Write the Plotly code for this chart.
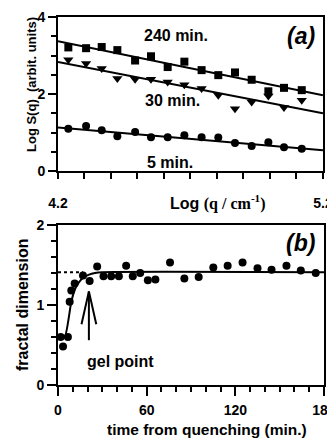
import plotly.graph_objects as go

# ---------------- Panel (a) data ----------------
logq = [4.239, 4.306, 4.365, 4.424, 4.491, 4.551, 4.614, 4.677, 4.742, 4.805, 4.868, 4.931, 4.994, 5.053, 5.120]
s_240 = [3.21, 3.19, 3.22, 3.14, 2.87, 2.98, 2.70, 2.84, 2.62, 2.49, 2.56, 2.37, 2.07, 2.16, 2.10]
s_30 = [2.89, 2.79, 2.66, 2.40, 2.38, 2.38, 2.31, 2.24, 2.14, 1.97, 1.62, 1.79, 1.95, 1.65, 1.84]
s_5 = [1.10, 1.17, 1.06, 0.90, 1.01, 0.88, 0.88, 0.93, 0.88, 0.87, 0.73, 0.65, 0.75, 0.62, 0.58]
fit_x = [4.2, 5.2]
fit_240 = [3.37, 1.97]
fit_30 = [2.83, 1.50]
fit_5 = [1.13, 0.54]
a_xtickvals = [4.2, 5.2]
a_yticks = [0, 2, 4]

# ---------------- Panel (b) data ----------------
t_min = [1.8, 3.4, 6.7, 7.9, 9.0, 11.3, 16.9, 21.4, 26.5, 30.8, 36.0, 41.2, 46.1, 50.6, 55.6,
         60.8, 65.9, 75.8, 85.5, 95.2, 105.1, 114.8, 124.9, 135.0, 144.5, 154.6, 164.3, 174.4]
dfrac = [0.60, 0.48, 0.60, 1.04, 1.18, 1.27, 1.37, 1.30, 1.48, 1.36, 1.36, 1.36, 1.49, 1.36, 1.40,
         1.31, 1.32, 1.53, 1.33, 1.35, 1.47, 1.49, 1.53, 1.46, 1.44, 1.49, 1.43, 1.40]
curve_t = [1.5, 4.5, 9.0, 11.5, 14.0, 17.0, 21.0, 25.0, 30.0, 180.0]
curve_d = [0.60, 0.60, 1.04, 1.20, 1.28, 1.34, 1.38, 1.40, 1.41, 1.41]
plateau_t = [0.0, 17.0]
plateau_d = [1.41, 1.41]
gel_t = 20.9
gel_arrow_y = [0.56, 1.17]
gel_head_dx = 5.0
gel_head_y = 0.76
b_xticks = [0, 60, 120, 180]
b_yticks = [0, 1, 2]

FONT = "Liberation Sans, Arial, sans-serif"
BLACK = "black"

fig = go.Figure()

# panel (a)
fig.add_trace(go.Scatter(x=logq, y=s_240, mode="markers", marker=dict(symbol="square", size=8, color=BLACK),
                         xaxis="x", yaxis="y", showlegend=False))
fig.add_trace(go.Scatter(x=logq, y=s_30, mode="markers", marker=dict(symbol="triangle-down", size=9, color=BLACK),
                         xaxis="x", yaxis="y", showlegend=False))
fig.add_trace(go.Scatter(x=logq, y=s_5, mode="markers", marker=dict(symbol="circle", size=8, color=BLACK),
                         xaxis="x", yaxis="y", showlegend=False))
for fy in (fit_240, fit_30, fit_5):
    fig.add_trace(go.Scatter(x=fit_x, y=fy, mode="lines", line=dict(color=BLACK, width=2),
                             xaxis="x", yaxis="y", showlegend=False))

# panel (b)
fig.add_trace(go.Scatter(x=plateau_t, y=plateau_d, mode="lines", line=dict(color=BLACK, width=2, dash="dot"),
                         xaxis="x2", yaxis="y2", showlegend=False))
fig.add_trace(go.Scatter(x=curve_t, y=curve_d, mode="lines", line=dict(color=BLACK, width=2, shape="spline", smoothing=0.6),
                         xaxis="x2", yaxis="y2", showlegend=False))
fig.add_trace(go.Scatter(x=t_min, y=dfrac, mode="markers", marker=dict(symbol="circle", size=8, color=BLACK),
                         xaxis="x2", yaxis="y2", showlegend=False))
# arrow for gel point (open V head)
fig.add_trace(go.Scatter(x=[gel_t, gel_t], y=gel_arrow_y, mode="lines", line=dict(color=BLACK, width=2),
                         xaxis="x2", yaxis="y2", showlegend=False))
fig.add_trace(go.Scatter(x=[gel_t - gel_head_dx, gel_t, gel_t + gel_head_dx],
                         y=[gel_head_y, gel_arrow_y[1], gel_head_y], mode="lines",
                         line=dict(color=BLACK, width=2), xaxis="x2", yaxis="y2", showlegend=False))

tickfont = dict(family=FONT, size=14, color=BLACK, weight="bold")
common = dict(showline=True, linecolor=BLACK, linewidth=2, mirror=True, ticks="outside",
              tickcolor=BLACK, tickwidth=2, showgrid=False, zeroline=False, tickfont=tickfont,
              automargin=False)


def minor(dt, t0):
    return dict(dtick=dt, tick0=t0, ticklen=5, tickcolor=BLACK, tickwidth=2, ticks="outside", showgrid=False)


# the page places the figure 8px from the top-left corner; margins compensate for that
fig.update_layout(
    width=335, height=438,
    margin=dict(l=50, r=19, t=9, b=61),
    plot_bgcolor="white", paper_bgcolor="white",
    xaxis=dict(domain=[0, 0.996], range=[4.2, 5.2], anchor="y", tickvals=a_xtickvals,
               ticklen=6, ticklabelstandoff=12, minor=dict(minor(0.1, 4.2), ticklen=6), **common),
    yaxis=dict(domain=[0.5815, 1], range=[0, 4], anchor="x", tickvals=a_yticks, ticklen=8,
               minor=minor(0.5, 0), **common),
    xaxis2=dict(domain=[0, 1], range=[0, 180], anchor="y2", tickvals=b_xticks, ticklen=9,
                ticklabelstandoff=2, minor=minor(10, 0), **common),
    yaxis2=dict(domain=[0, 0.4348], range=[0, 2], anchor="x2", tickvals=b_yticks, ticklen=9,
                minor=minor(0.2, 0), **common),
)

bold = dict(family=FONT, size=16, color=BLACK, weight="bold")
C = dict(showarrow=False, xanchor="center", yanchor="middle")
ann = [
    dict(x=4.647, y=3.52, xref="x", yref="y", text="240 min.", font=bold, **C),
    dict(x=4.631, y=1.84, xref="x", yref="y", text="30 min.", font=bold, **C),
    dict(x=4.622, y=0.22, xref="x", yref="y", text="5 min.", font=bold, **C),
    dict(x=5.118, y=3.51, xref="x", yref="y", text="<i>(a)</i>",
         font=dict(family=FONT, size=23, color=BLACK, weight="bold"), **C),
    dict(x=164, y=1.77, xref="x2", yref="y2", text="<i>(b)</i>",
         font=dict(family=FONT, size=23, color=BLACK, weight="bold"), **C),
    dict(x=42, y=0.30, xref="x2", yref="y2", text="gel point", font=bold, **C),
    dict(x=(31 - 58) / 266, y=(385 - 85) / 368, xref="paper", yref="paper",
         text="Log S(q)&nbsp; (arbit. units)", textangle=-90,
         font=dict(family=FONT, size=13, color=BLACK, weight="bold"), **C),
    dict(x=(22 - 58) / 266, y=(385 - 305) / 368, xref="paper", yref="paper", text="fractal dimension",
         textangle=-90, font=bold, **C),
    dict(x=(218 - 58) / 266, y=(385 - 202) / 368, xref="paper", yref="paper",
         text="Log <span style='font-family:Liberation Serif, Times New Roman, serif'>(q / cm<sup>-1</sup>)</span>",
         font=bold, **C),
    dict(x=(207 - 58) / 266, y=(385 - 429) / 368, xref="paper", yref="paper",
         text="time from quenching (min.)", font=dict(family=FONT, size=15.5, color=BLACK, weight="bold"), **C),
]
fig.update_layout(annotations=ann)

fig.write_html("out.html")
